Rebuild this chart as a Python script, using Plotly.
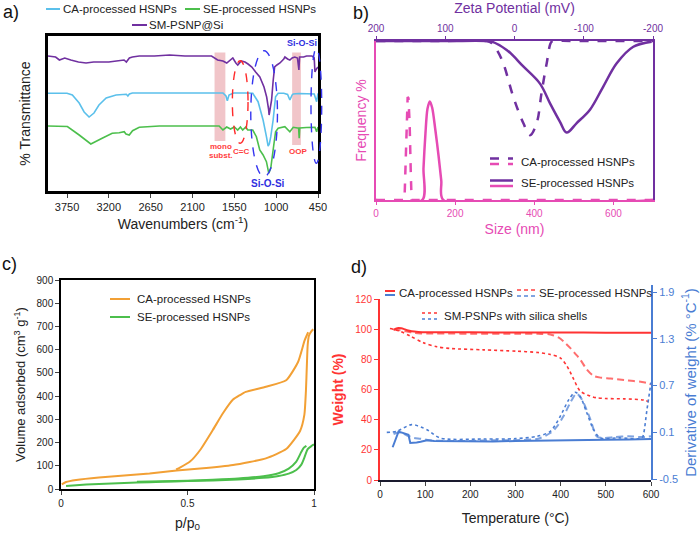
import plotly.graph_objects as go

W, H = 700, 534
FONT = "Liberation Sans, Arial, sans-serif"

def X(px):
    return px / W

def Y(py):
    return 1 - py / H

# ---------------- Panel a: FTIR ----------------
wn_sm = [4000, 3900, 3850, 3780, 3700, 3600, 3500, 3400, 3300, 3200, 3100, 3000, 2970, 2930, 2890, 2800,
         2600, 2400, 2200, 2000, 1850, 1770, 1700, 1650, 1600, 1570, 1530, 1505, 1460, 1410, 1370, 1320,
         1270, 1215, 1160, 1125, 1100, 1093, 1080, 1060, 1040, 1020, 990, 950, 900, 885, 850, 820, 790,
         755, 720, 710, 701, 692, 680, 640, 600, 530, 500, 490, 470, 455, 450]
t_sm = [135, 134, 131, 133, 131, 129, 128, 129, 129, 129, 130, 131, 129, 133, 134, 135,
        135, 136, 135, 135, 135, 131, 130, 128, 131, 133, 128, 126, 130, 129, 127, 124,
        119, 114, 104, 94, 82, 76, 82, 91, 110, 124, 126, 128, 132, 134, 132, 131, 133,
        134, 133, 128, 121, 134, 134, 134, 135, 135, 133, 119, 122, 124, 124]

wn_ca = [4000, 3750, 3680, 3590, 3525, 3460, 3395, 3330, 3235, 3105, 2970, 2950, 2930, 2890, 2500, 2000,
         1700, 1660, 1642, 1620, 1560, 1400, 1308, 1238, 1172, 1128, 1106, 1090, 1071, 1040, 1008, 974,
         900, 850, 820, 790, 776, 700, 600, 500, 468, 450]
t_ca = [97.7, 97.7, 96, 88, 79, 74, 78, 86, 93, 96, 96.7, 95, 97, 98, 98, 98,
        98, 95, 90.3, 96, 98, 98, 97.7, 89.3, 71, 54.3, 45, 47, 54.3, 71, 94.3, 97.7,
        97.7, 96.5, 91, 96, 97, 97.5, 97.5, 97, 89.3, 97.7]

wn_se = [4000, 3800, 3745, 3590, 3437, 3288, 3156, 3064, 2998, 2975, 2932, 2888, 2800, 2536, 2000, 1750,
         1700, 1650, 1600, 1550, 1506, 1470, 1440, 1400, 1374, 1308, 1260, 1216, 1172, 1128, 1097, 1071,
         1040, 1008, 974, 886, 820, 776, 720, 705, 697, 690, 600, 490, 468, 450]
t_se = [65, 65, 64.5, 56, 47, 52.7, 57.7, 58.3, 59.3, 57, 56, 60.3, 63.7, 65, 65, 65,
        61, 64, 62, 64, 61, 64, 61, 64, 61, 61, 54.3, 41, 36, 29.3, 17.7, 23,
        41, 59.3, 62.7, 64.3, 59.3, 63.7, 63, 63, 52.7, 63, 63.5, 63.7, 59.3, 64]

wn_ticks = [3750, 3200, 2650, 2100, 1550, 1000, 450]

# ---------------- Panel b: size / zeta ----------------
size_ca = [0, 72, 74, 77, 80, 82, 85, 88, 90, 700]
freq_ca = [0, 0, 4, 12, 16.2, 16, 12, 4, 0, 0]
size_se = [0, 117, 120, 125, 130, 136, 142, 150, 158, 165, 170, 700]
freq_se = [0, 0, 5, 10.5, 14.3, 15.5, 14.5, 11, 7, 3, 0, 0]

zeta_ca = [200, 100, 40, 33, 25, 16.2, 1.7, -12.7, -22.4, -32, -39, -46.5, -53.7, -60, -100, -200]
zfreq_ca = [0, 0, 0, 0.3, 1.5, 3.5, 8.8, 12.9, 14.8, 12.9, 8.2, 3.5, 0.1, 0, 0, 0]
zeta_se = [200, 100, 40, 33, 11.3, -12.7, -36.8, -51.3, -65.7, -75.3, -89.8, -109, -128, -147.6, -171.6, -198]
zfreq_se = [0, 0, 0, 0.1, 1.4, 4.0, 6.7, 9.8, 12.7, 14.4, 12.9, 10.8, 7.2, 3.5, 0.9, 0.1]

size_ticks = [0, 200, 400, 600]
zeta_ticks = [200, 100, 0, -100, -200]

# ---------------- Panel c: N2 isotherms ----------------
p_ca_ads = [0.003, 0.02, 0.06, 0.15, 0.25, 0.35, 0.457, 0.55, 0.68, 0.81, 0.89, 0.945, 0.962, 0.968,
            0.972, 0.975, 0.98, 0.99, 0.997]
v_ca_ads = [20, 30, 39, 50, 58, 67, 80, 88, 103, 132, 172, 250, 320, 420, 540, 620, 660, 680, 688]
p_ca_des = [0.977, 0.963, 0.937, 0.89, 0.81, 0.73, 0.707, 0.68, 0.64, 0.60, 0.55, 0.51, 0.47, 0.455]
v_ca_des = [675, 640, 547, 468, 440, 418, 404, 385, 326, 254, 168, 118, 92, 84]

p_se_ads = [0.02, 0.1, 0.2, 0.3, 0.4, 0.5, 0.6, 0.7, 0.8, 0.86, 0.9, 0.93, 0.95, 0.96, 0.975, 0.99, 1.0]
v_se_ads = [13, 19, 24, 28, 31, 34, 37, 41, 48, 56, 66, 82, 105, 130, 172, 185, 192]
p_se_des = [0.97, 0.96, 0.95, 0.93, 0.9, 0.86, 0.8, 0.7, 0.6, 0.5, 0.4, 0.3]
v_se_des = [186, 178, 160, 118, 88, 68, 55, 45, 40, 36, 33, 31]

# ---------------- Panel d: TGA / DTG ----------------
T_ca = [30, 35, 41, 47, 52, 60, 70, 85, 104, 150, 200, 300, 400, 500, 600]
w_ca = [99.5, 100.3, 100.8, 100.6, 100.2, 99.3, 98.6, 98.2, 98.0, 97.9, 97.9, 97.8, 97.8, 97.7, 97.7]
T_se = [30, 45, 60, 75, 90, 110, 150, 200, 300, 350, 377, 395, 406, 421, 433, 443, 458, 473, 490, 510,
        540, 562, 580, 595, 600]
w_se = [99.8, 99.3, 98.4, 97.6, 97.2, 97.1, 97.1, 97.0, 97.0, 96.9, 96.5, 94.5, 92, 87.6, 83.5, 80,
        73.3, 69, 67.8, 67.3, 66.3, 65.6, 65, 64, 63.5]
T_sm = [22, 44, 67, 96, 126, 155, 229, 303, 350, 377, 399, 414, 429, 443, 466, 480, 500, 540, 584, 595]
w_sm = [100.4, 98.7, 95.4, 91, 88.3, 87.2, 86.3, 85.4, 84.5, 83.2, 81, 75.5, 66.7, 59, 55.6, 54.5,
        54, 53.8, 53, 52]

Td_ca = [28, 35, 41, 47, 52, 58, 63, 67, 75, 81, 90, 104, 120, 150, 200, 250, 300, 350, 400, 450,
         500, 550, 600]
d_ca = [-0.09, 0.02, 0.11, 0.1, 0.09, 0.08, 0.07, -0.036, -0.035, -0.029, -0.02, 0.0, -0.01, -0.012,
        -0.01, -0.015, -0.01, -0.008, -0.005, 0.0, 0.005, 0.01, 0.015]
Td_se = [30, 40, 50, 60, 75, 90, 110, 150, 200, 250, 300, 350, 377, 392, 406, 421, 432, 436, 445,
         451, 466, 480, 495, 520, 550, 580, 600]
d_se = [0.08, 0.1, 0.09, 0.06, 0.03, 0.02, 0.0, -0.01, -0.01, 0.0, 0.0, 0.02, 0.092, 0.177, 0.306,
        0.478, 0.585, 0.597, 0.54, 0.478, 0.263, 0.049, 0.03, 0.04, 0.05, 0.04, 0.05]
Td_sm = [15, 37, 70, 104, 133, 229, 300, 347, 377, 399, 418, 432, 443, 458, 473, 488, 530, 580,
         584, 591, 600]
d_sm = [0.1, 0.113, 0.2, 0.135, 0.028, 0.015, 0.02, 0.049, 0.113, 0.306, 0.52, 0.614, 0.563, 0.349,
        0.135, 0.028, 0.03, 0.028, 0.092, 0.39, 0.74]

# ---------------- Colours ----------------
C_PURPLE = "#7030A0"
C_PINK = "#E64BB4"
C_LBLUE = "#5BC0EB"
C_GREEN = "#4CBF4C"
C_ORANGE = "#F2A035"
C_RED = "#FF3333"
C_BLUE = "#4A7DD3"
C_TXT = "#222222"
LONGDASH = "7px,4px"

def ln(color, width, dash="solid", smooth=None):
    d = dict(color=color, width=width, dash=dash)
    if smooth is not None:
        d["shape"] = "spline"
        d["smoothing"] = smooth
    return d

fig = go.Figure()

# Panel a traces
fig.add_trace(go.Scatter(x=wn_sm, y=t_sm, mode="lines", line=ln(C_PURPLE, 1.6), xaxis="x", yaxis="y"))
fig.add_trace(go.Scatter(x=wn_ca, y=t_ca, mode="lines", line=ln(C_LBLUE, 1.6), xaxis="x", yaxis="y"))
fig.add_trace(go.Scatter(x=wn_se, y=t_se, mode="lines", line=ln(C_GREEN, 1.6), xaxis="x", yaxis="y"))

# Panel b traces
fig.add_trace(go.Scatter(x=size_ca, y=freq_ca, mode="lines", line=ln(C_PINK, 2.5, "dash"), xaxis="x2", yaxis="y2"))
fig.add_trace(go.Scatter(x=size_se, y=freq_se, mode="lines", line=ln(C_PINK, 2.5, smooth=0.8), xaxis="x2", yaxis="y2"))
fig.add_trace(go.Scatter(x=zeta_ca, y=zfreq_ca, mode="lines", line=ln(C_PURPLE, 2.5, "dash", 1.0), xaxis="x3", yaxis="y3"))
fig.add_trace(go.Scatter(x=zeta_se, y=zfreq_se, mode="lines", line=ln(C_PURPLE, 2.5, smooth=1.0), xaxis="x3", yaxis="y3"))

# Panel c traces
fig.add_trace(go.Scatter(x=p_ca_ads, y=v_ca_ads, mode="lines", line=ln(C_ORANGE, 2, smooth=0.5), xaxis="x4", yaxis="y4"))
fig.add_trace(go.Scatter(x=p_ca_des, y=v_ca_des, mode="lines", line=ln(C_ORANGE, 2, smooth=0.5), xaxis="x4", yaxis="y4"))
fig.add_trace(go.Scatter(x=p_se_ads, y=v_se_ads, mode="lines", line=ln(C_GREEN, 2, smooth=0.5), xaxis="x4", yaxis="y4"))
fig.add_trace(go.Scatter(x=p_se_des, y=v_se_des, mode="lines", line=ln(C_GREEN, 2, smooth=0.5), xaxis="x4", yaxis="y4"))

# Panel d traces
fig.add_trace(go.Scatter(x=Td_ca, y=d_ca, mode="lines", line=ln(C_BLUE, 2), xaxis="x5", yaxis="y6"))
fig.add_trace(go.Scatter(x=Td_se, y=d_se, mode="lines", line=ln(C_BLUE, 2, LONGDASH, 0.8), opacity=0.7, xaxis="x5", yaxis="y6"))
fig.add_trace(go.Scatter(x=Td_sm, y=d_sm, mode="lines", line=ln(C_BLUE, 1.6, "dot", 0.8), xaxis="x5", yaxis="y6"))
fig.add_trace(go.Scatter(x=T_ca, y=w_ca, mode="lines", line=ln(C_RED, 2, smooth=0.6), xaxis="x5", yaxis="y5"))
fig.add_trace(go.Scatter(x=T_se, y=w_se, mode="lines", line=ln(C_RED, 2, LONGDASH, 0.8), opacity=0.7, xaxis="x5", yaxis="y5"))
fig.add_trace(go.Scatter(x=T_sm, y=w_sm, mode="lines", line=ln(C_RED, 1.6, "dot", 0.8), xaxis="x5", yaxis="y5"))

shapes = []
annots = []

# ---- Panel a decorations ----
shapes.append(dict(type="rect", xref="x", yref="y", x0=1810, x1=1668, y0=50, y1=138.5,
                   fillcolor="rgba(228,140,148,0.5)", line=dict(width=0), layer="below"))
shapes.append(dict(type="rect", xref="x", yref="y", x0=790, x1=675, y0=46, y1=138.5,
                   fillcolor="rgba(228,140,148,0.5)", line=dict(width=0), layer="below"))
shapes.append(dict(type="circle", xref="x", yref="y", x0=1576, x1=1370, y0=47.7, y1=130.3,
                   line=dict(color="#FF2A2A", width=1.4, dash="dash")))
shapes.append(dict(type="circle", xref="x", yref="y", x0=1334, x1=983, y0=14.3, y1=140.3,
                   line=dict(color="#3535F0", width=1.4, dash="dash")))
shapes.append(dict(type="circle", xref="paper", yref="paper", x0=X(311), x1=X(321.7), y0=Y(163.3), y1=Y(48.3),
                   line=dict(color="#3535F0", width=1.4, dash="dash")))

def txt(x, y, s, size, color, bold=False, anchor="center"):
    annots.append(dict(xref="paper", yref="paper", x=X(x), y=Y(y), text=("<b>%s</b>" % s) if bold else s,
                       showarrow=False, xanchor=anchor, yanchor="middle",
                       font=dict(family=FONT, size=size, color=color)))

txt(221, 146.5, "mono", 8, "#FF4040", True)
txt(221, 155.5, "subst.", 8, "#FF4040", True)
txt(240.5, 151.5, "C=C", 8, "#FF4040", True)
txt(297.5, 151.5, "OOP", 8, "#FF4040", True)
txt(268, 184, "Si-O-Si", 10, "#3030E0", True)
txt(302, 43, "Si-O-Si", 9, "#3030E0", True)

def lg_line(x0, x1, y, color, dash="solid", width=2):
    shapes.append(dict(type="line", xref="paper", yref="paper", x0=X(x0), x1=X(x1), y0=Y(y), y1=Y(y),
                       line=dict(color=color, width=width, dash=dash)))

# legend a
lg_line(46, 60, 9, C_LBLUE)
txt(61, 9, "CA-processed HSNPs", 11.5, C_TXT, anchor="left")
lg_line(185, 200, 9, C_GREEN)
txt(201, 9, "SE-processed HSNPs", 11.5, C_TXT, anchor="left")
lg_line(132, 147, 25, C_PURPLE)
txt(147, 25, "SM-PSNP@Si", 11.5, C_TXT, anchor="left")

# legend b
lg_line(490, 513, 158.5, C_PURPLE, "dash", 2.5)
lg_line(490, 513, 164, C_PINK, "dash", 2.5)
txt(519, 161.5, "CA-processed HSNPs", 11.5, C_TXT, anchor="left")
lg_line(490, 513, 180.5, C_PURPLE, "solid", 2.5)
lg_line(490, 513, 186, C_PINK, "solid", 2.5)
txt(519, 183, "SE-processed HSNPs", 11.5, C_TXT, anchor="left")

# legend c
lg_line(110, 130, 299, C_ORANGE)
txt(135, 299, "CA-processed HSNPs", 11.5, C_TXT, anchor="left")
lg_line(110, 130, 317, C_GREEN)
txt(135, 317, "SE-processed HSNPs", 11.5, C_TXT, anchor="left")

# legend d
lg_line(385, 395, 291, C_RED)
lg_line(385, 395, 295, C_BLUE)
txt(397, 293, "CA-processed HSNPs", 11.5, C_TXT, anchor="left")
lg_line(517, 535, 290, "rgba(255,51,51,0.7)", "4px,3px")
lg_line(517, 535, 296, "rgba(74,125,211,0.7)", "4px,3px")
txt(537, 293, "SE-processed HSNPs", 11.5, C_TXT, anchor="left")
lg_line(422, 438, 313, C_RED, "dot", 1.6)
lg_line(422, 438, 319, C_BLUE, "dot", 1.6)
txt(442, 315.5, "SM-PSNPs with silica shells", 11.5, C_TXT, anchor="left")

# panel labels
txt(1, 12, "a)", 18, "#111", anchor="left")
txt(351, 13, "b)", 18, "#111", anchor="left")
txt(0, 264, "c)", 18, "#111", anchor="left")
txt(349, 267, "d)", 18, "#111", anchor="left")

def ax(**kw):
    base = dict(showgrid=False, zeroline=False, showline=True, ticks="outside", ticklen=4,
                automargin=False, tickfont=dict(family=FONT, size=10, color=C_TXT))
    base.update(kw)
    return base

layout = dict(
    width=W, height=H, margin=dict(l=0, r=0, t=0, b=0, pad=0, autoexpand=False),
    paper_bgcolor="white", plot_bgcolor="rgba(0,0,0,0)", showlegend=False,
    font=dict(family=FONT, color=C_TXT),
    shapes=shapes, annotations=annots,
    # a
    xaxis=ax(domain=[X(48), X(318)], range=[4000, 450], anchor="y", tickvals=wn_ticks,
             linecolor="black", linewidth=2.5, mirror=True, tickfont=dict(family=FONT, size=11, color=C_TXT),
             title=dict(text="Wavenumbers (cm<sup>-1</sup>)", font=dict(family=FONT, size=14, color=C_TXT), standoff=8)),
    yaxis=ax(domain=[Y(191), Y(36)], range=[0, 155], anchor="x", showticklabels=False, ticks="",
             linecolor="black", linewidth=2.5, mirror=True,
             title=dict(text="% Transmittance", font=dict(family=FONT, size=14, color=C_TXT), standoff=12)),
    # b
    xaxis2=ax(domain=[X(376), X(653)], range=[0, 700], anchor="y2", tickvals=size_ticks,
              linecolor=C_PINK, linewidth=2, tickcolor=C_PINK, ticklen=3,
              tickfont=dict(family=FONT, size=10, color=C_PINK),
              title=dict(text="Size (nm)", font=dict(family=FONT, size=14, color=C_PINK), standoff=6)),
    xaxis3=ax(overlaying="x2", side="top", anchor="y2", range=[200, -200], tickvals=zeta_ticks,
              ticktext=[str(v) for v in zeta_ticks],
              linecolor=C_PURPLE, linewidth=2, tickcolor=C_PURPLE, ticklen=3,
              tickfont=dict(family=FONT, size=10, color=C_PURPLE),
              title=dict(text="Zeta Potential (mV)", font=dict(family=FONT, size=14, color=C_PURPLE), standoff=6)),
    yaxis2=ax(domain=[Y(200), Y(41)], range=[0, 25], anchor="x2", showticklabels=False, ticks="",
              linecolor=C_PINK, linewidth=2,
              title=dict(text="Frequency %", font=dict(family=FONT, size=14, color=C_PINK), standoff=4)),
    yaxis3=ax(overlaying="y2", side="right", anchor="x2", range=[25, 0], showticklabels=False, ticks="",
              linecolor=C_PURPLE, linewidth=2),
    # c
    xaxis4=ax(domain=[X(61), X(314)], range=[0, 1], anchor="y4", tickvals=[0, 0.5, 1], ticktext=["0", "0.5", "1"],
              linecolor="black", linewidth=1.5, mirror=True,
              title=dict(text="p/p<sub>0</sub>", font=dict(family=FONT, size=14, color=C_TXT), standoff=10)),
    yaxis4=ax(domain=[Y(489), Y(280)], range=[0, 900], anchor="x4", dtick=100,
              linecolor="black", linewidth=1.5, mirror=True,
              title=dict(text="Volume adsorbed (cm<sup>3</sup> g<sup>-1</sup>)", font=dict(family=FONT, size=13, color=C_TXT), standoff=8)),
    # d
    xaxis5=ax(domain=[X(380), X(651)], range=[0, 600], anchor="y5", dtick=100,
              linecolor="#1a1a2e", linewidth=1.5,
              title=dict(text="Temperature (°C)", font=dict(family=FONT, size=14, color=C_TXT), standoff=14)),
    yaxis5=ax(domain=[Y(480), Y(299)], range=[0, 120], anchor="x5", dtick=20,
              linecolor=C_RED, linewidth=2, tickcolor=C_RED,
              tickfont=dict(family=FONT, size=10, color=C_RED),
              title=dict(text="<b>Weight (%)</b>", font=dict(family=FONT, size=14, color=C_RED), standoff=8)),
    yaxis6=ax(domain=[Y(480), Y(285)], range=[-0.51, 1.99], anchor="x5", side="right",
              tickvals=[-0.5, 0.1, 0.7, 1.3, 1.9], ticktext=["-0.5", "0.1", "0.7", "1.3", "1.9"],
              linecolor=C_BLUE, linewidth=2, tickcolor=C_BLUE,
              tickfont=dict(family=FONT, size=11, color=C_BLUE),
              title=dict(text="Derivative of weight (% °C<sup>-1</sup>)", font=dict(family=FONT, size=15, color=C_BLUE), standoff=8)),
)

fig.update_layout(**layout)
fig.write_html("out.html")
